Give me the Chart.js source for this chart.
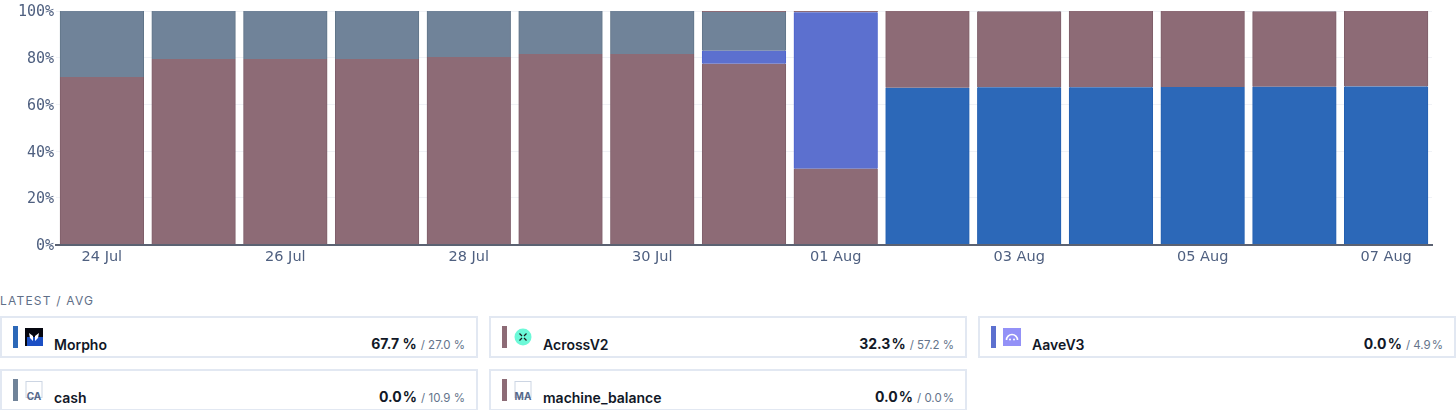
<!DOCTYPE html>
<html>
<head>
<meta charset="utf-8">
<script src="https://cdn.jsdelivr.net/npm/chart.js@4"></script>
<style>
    html, body { margin: 0; padding: 0; background: #fff; overflow: hidden; }
    body { width: 1456px; height: 410px; position: relative; font-family: Inter, sans-serif; }
    #chartWrap { position: absolute; left: 0; top: 0; width: 1456px; height: 270px; }
    #title { position: absolute; left: 0; top: 294px; font-size: 12px; line-height: 14px; letter-spacing: 1.2px; color: #5f6f88; }
    .card { position: absolute; box-sizing: border-box; width: 478px; height: 42px; border: 2px solid #e2e8f2; background: #fff; }
    .swatch { position: absolute; left: 11px; top: 8px; width: 5px; height: 22px; }
    .icon { position: absolute; left: 23px; top: 10px; width: 18px; height: 18px; }
    .name { position: absolute; left: 52px; top: 18px; font-size: 14px; line-height: 17px; font-weight: 600; color: #111827; }
    .vals { position: absolute; right: 11px; top: 17px; line-height: 17px; white-space: nowrap; }
    .latest { font-size: 14px; font-weight: 700; color: #111827; }
    .avg { font-size: 11.5px; color: #64748b; margin-left: 4px; }
</style>
</head>
<body>
<div id="chartWrap"><canvas id="myChart"></canvas></div>
<div id="title">LATEST / AVG</div>
<div id="cards"></div>
<script>
const categories = ['24 Jul', '25 Jul', '26 Jul', '27 Jul', '28 Jul', '29 Jul', '30 Jul', '31 Jul',
    '01 Aug', '02 Aug', '03 Aug', '04 Aug', '05 Aug', '06 Aug', '07 Aug']

const morpho = [null, null, null, null, null, null, null, null, null, 67.1, 67.4, 67.4, 67.5, 67.6, 67.7]
const acrossV2 = [71.8, 79.4, 79.4, 79.4, 80.3, 81.6, 81.6, 77.4, 32.5, 32.9, 32.4, 32.6, 32.5, 32.2, 32.3]
const aaveV3 = [null, null, null, null, null, null, null, 5.6, 67.0, null, null, null, null, null, null]
const cash = [28.2, 20.6, 20.6, 20.6, 19.7, 18.4, 18.4, 16.6, null, null, 0.2, null, null, 0.2, null]
const machineBalance = [null, null, null, null, null, null, null, 0.4, 0.5, null, null, null, null, null, null]

const yTicks = [0, 20, 40, 60, 80, 100]

const seriesNames = ['Morpho', 'AcrossV2', 'AaveV3', 'cash', 'machine_balance']
const seriesColors = ['#2c68b8', '#8d6b76', '#5c70cf', '#708399', '#8d6b76']
const seriesEdges = ['#2560b0', '#7f5f6a', '#4f65cc', '#617589', '#7f5f6a']
const latestValues = ['67.7 %', '32.3\u200A%', '0.0\u200A%', '0.0\u200A%', '0.0\u200A%']
const avgValues = ['/ 27.0 %', '/ 57.2 %', '/ 4.9\u200A%', '/ 10.9 %', '/ 0.0\u200A%']
const seriesValues = [morpho, acrossV2, aaveV3, cash, machineBalance]

const cardLeft = [0, 489, 978, 0, 489]
const cardTop = [316, 316, 316, 369, 369]

// little logos next to the names
const icons = [
    '<svg class="icon" viewBox="0 0 18 18"><rect width="18" height="18" fill="#05060f"/><rect x="2" y="9" width="16" height="9" fill="#1b4fc4"/><path d="M4 5l4 3v5l-3-3zM14 5l-4 3v5l3-3z" fill="#fff"/></svg>',
    '<svg class="icon" viewBox="0 0 18 18"><circle cx="9" cy="9" r="8.5" fill="#6cf9d8"/><path d="M5.5 5.5l2.5 2.5M12.5 5.5l-2.5 2.5M5.5 12.5l2.5-2.5M12.5 12.5l-2.5-2.5" stroke="#1a1a1a" stroke-width="1.2"/></svg>',
    '<svg class="icon" viewBox="0 0 18 18"><rect width="18" height="18" fill="#9391f7"/><path d="M3.5 12a5.5 5.5 0 0 1 11 0" fill="none" stroke="#fff" stroke-width="1.6"/><circle cx="7" cy="11.5" r="1" fill="#fff"/><circle cx="11" cy="11.5" r="1" fill="#fff"/></svg>',
    '<svg class="icon" viewBox="0 0 18 18" style="overflow:visible"><rect x="1" y="0.5" width="16" height="16" fill="#fff" stroke="#ccd5e3"/><text x="9" y="19" text-anchor="middle" font-size="10" font-weight="700" fill="#56688a" font-family="Inter">CA</text></svg>',
    '<svg class="icon" viewBox="0 0 18 18" style="overflow:visible"><rect x="1" y="0.5" width="16" height="16" fill="#fff" stroke="#ccd5e3"/><text x="9" y="19" text-anchor="middle" font-size="10" font-weight="700" fill="#56688a" font-family="Inter">MA</text></svg>'
]

let cardsHtml = ''
for (let index = 0; index < seriesNames.length; index++) {
    cardsHtml += "<div class='card' style='left:" + cardLeft[index] + "px;top:" + cardTop[index] + "px'>"
        + "<div class='swatch' style='background:" + seriesColors[index] + "'></div>"
        + icons[index]
        + "<div class='name'>" + seriesNames[index] + "</div>"
        + "<div class='vals'><span class='latest'>" + latestValues[index] + "</span>"
        + "<span class='avg'>" + avgValues[index] + "</span></div></div>"
}
document.getElementById('cards').innerHTML = cardsHtml

new Chart(document.getElementById('myChart').getContext('2d'), {
    type: 'bar',
    data: {
        labels: categories,
        datasets: seriesNames.map(function (name, i) {
            return {
                label: name,
                data: seriesValues[i],
                backgroundColor: seriesColors[i],
                borderColor: seriesEdges[i],
                borderWidth: { left: 1, right: 1, top: 0, bottom: 0 },
                borderSkipped: false,
                inflateAmount: 0.4,
                barPercentage: 0.91,
                categoryPercentage: 1
            }
        })
    },
    options: {
        responsive: true,
        maintainAspectRatio: false,
        animation: false,
        layout: { padding: { top: 11, right: 24, left: 0, bottom: 0 } },
        plugins: { legend: { display: false }, tooltip: { enabled: false } },
        scales: {
            x: {
                stacked: true,
                grid: { display: false, drawTicks: false },
                border: { color: '#5b6272', width: 2 },
                ticks: {
                    autoSkip: false,
                    maxRotation: 0,
                    padding: 4,
                    color: '#4f6080',
                    font: { family: '"DejaVu Sans", sans-serif', size: 14.5 },
                    callback: function (value, index) {
                        return index % 2 == 0 ? categories[index] : ''
                    }
                }
            },
            y: {
                stacked: true,
                min: 0,
                max: 100,
                afterFit: function (scale) { scale.width = 56 },
                afterBuildTicks: function (scale) {
                    scale.ticks = yTicks.map(function (v) { return { value: v } })
                },
                grid: { color: '#f0f2f6', drawTicks: false },
                border: { display: false },
                ticks: {
                    padding: 2,
                    labelOffset: 1.5,
                    color: '#4f6080',
                    font: { family: '"DejaVu Sans Mono", monospace', size: 15 },
                    callback: function (value) { return value + '%' }
                }
            }
        }
    }
})
</script>
</body>
</html>
